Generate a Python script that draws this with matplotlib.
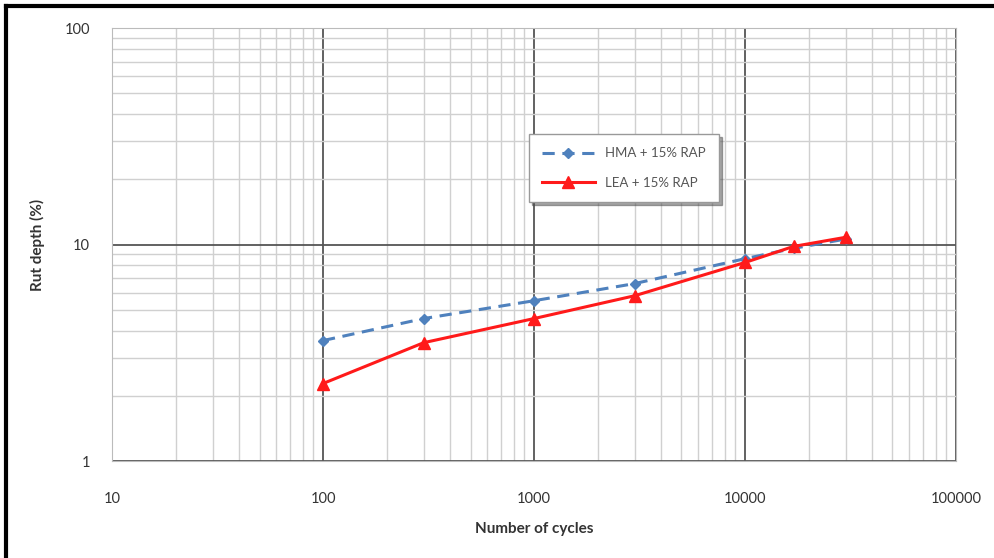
import matplotlib.pyplot as plt
from matplotlib.lines import Line2D
from matplotlib.ticker import FixedLocator, LogLocator, NullFormatter

cycles = [100, 300, 1000, 3000, 10000, 17000, 30000]
hma_rut = [3.6, 4.55, 5.5, 6.6, 8.6, 9.6, 10.6]
lea_rut = [2.28, 3.52, 4.55, 5.8, 8.26, 9.8, 10.8]
x_ticks = [10, 100, 1000, 10000, 100000]
y_ticks = [1, 10, 100]

plt.rcParams['font.family'] = ['Lato', 'DejaVu Sans']

fig = plt.figure(figsize=(9.95, 5.58), dpi=100)
ax = fig.add_axes([0.1126, 0.1738, 0.8482, 0.776])

ax.plot(cycles, hma_rut, color='#4f81bd', linestyle=(0, (4, 2.5)), linewidth=2.2,
        marker='D', markersize=5, label='HMA + 15% RAP', zorder=3)
ax.plot(cycles, lea_rut, color='#ff1a1a', linestyle='-', linewidth=2.2,
        marker='^', markersize=8, label='LEA + 15% RAP', zorder=4)

ax.set_xscale('log')
ax.set_yscale('log')
ax.set_xlim(10, 100000)
ax.set_ylim(1, 100)
ax.xaxis.set_major_locator(FixedLocator(x_ticks))
ax.yaxis.set_major_locator(FixedLocator(y_ticks))
ax.set_xticklabels([str(v) for v in x_ticks])
ax.set_yticklabels([str(v) for v in y_ticks])
ax.xaxis.set_minor_locator(LogLocator(base=10, subs=range(2, 10)))
ax.yaxis.set_minor_locator(LogLocator(base=10, subs=range(2, 10)))
ax.xaxis.set_minor_formatter(NullFormatter())
ax.yaxis.set_minor_formatter(NullFormatter())

ax.grid(which='major', color='#555555', linewidth=1.3)
ax.grid(which='minor', color='#d0d0d0', linewidth=1.0)
ax.set_axisbelow(True)
ax.tick_params(which='both', length=0, labelsize=10.5, colors='#333333')
ax.tick_params(axis='x', pad=22)
ax.tick_params(axis='y', pad=16)
for s in ax.spines.values():
    s.set_color('#bbbbbb')

ax.set_xlabel('Number of cycles', fontsize=11, fontweight='bold', color='#333333', labelpad=12)
ax.set_ylabel('Rut depth (%)', fontsize=11, fontweight='bold', color='#333333', labelpad=14)

leg = ax.legend(loc='upper left', bbox_to_anchor=(0.486, 0.77), fontsize=9.5,
                frameon=True, fancybox=False, shadow=True, borderpad=1.0,
                labelspacing=1.3, handlelength=4, edgecolor='#999999')
for t in leg.get_texts():
    t.set_color('#555555')

# black frame on left and top edges of the image
fig.add_artist(Line2D([0.006, 0.006], [0, 0.99], transform=fig.transFigure, color='black', linewidth=3))
fig.add_artist(Line2D([0.006, 1.0], [0.99, 0.99], transform=fig.transFigure, color='black', linewidth=3))

fig.savefig('out.png', dpi=100)
